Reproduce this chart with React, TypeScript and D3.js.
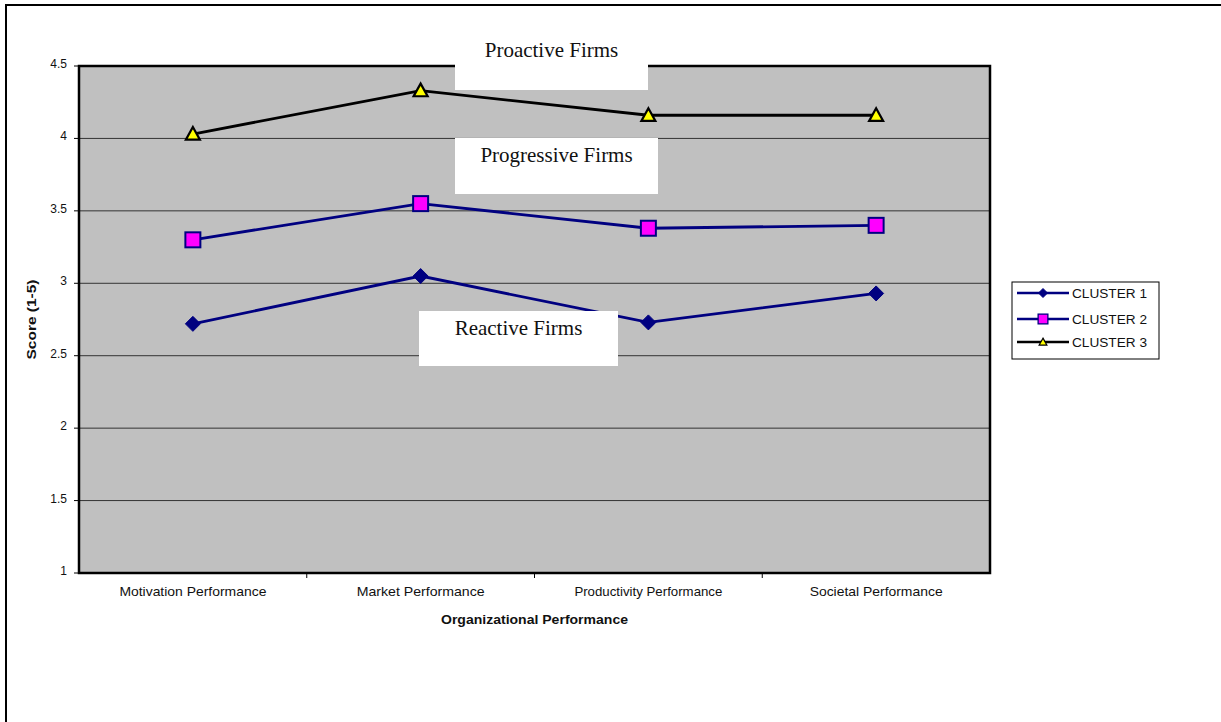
import React from "react";
import * as d3 from "d3";

const categories = ["Motivation Performance", "Market Performance", "Productivity Performance", "Societal Performance"];
const cluster1 = [2.72, 3.05, 2.73, 2.93];
const cluster2 = [3.30, 3.55, 3.38, 3.40];
const cluster3 = [4.03, 4.33, 4.16, 4.16];
const seriesNames = ["CLUSTER 1", "CLUSTER 2", "CLUSTER 3"];
const yTicks = [1, 1.5, 2, 2.5, 3, 3.5, 4, 4.5];
const annotations = ["Proactive Firms", "Progressive Firms", "Reactive Firms"];

const W = 1221, H = 722;
const plot = { left: 79, right: 990, top: 66, bottom: 573 };

function Marker({ kind, x, y, s = 1 }: { kind: string; x: number; y: number; s?: number }) {
  if (kind === "diamond") {
    const r = 7.5 * s;
    return <path d={`M${x},${y - r}L${x + r},${y}L${x},${y + r}L${x - r},${y}Z`} fill="#000080" stroke="#000080" strokeWidth={1} />;
  }
  if (kind === "square") {
    const r = 7.5 * s;
    return <rect x={x - r} y={y - r} width={2 * r} height={2 * r} fill="#FF00FF" stroke="#000080" strokeWidth={2 * s} />;
  }
  const r = 7 * s;
  return <path d={`M${x},${y - r}L${x + r},${y + r * 0.8}L${x - r},${y + r * 0.8}Z`} fill="#FFFF00" stroke="#000" strokeWidth={2.2 * s} strokeLinejoin="miter" />;
}

export default function App() {
  const x = d3.scaleBand<string>().domain(categories).range([plot.left, plot.right]);
  const y = d3.scaleLinear().domain([1, 4.5]).range([plot.bottom, plot.top]);
  const cx = (c: string) => (x(c) as number) + x.bandwidth() / 2;

  const series = [
    { name: seriesNames[0], values: cluster1, color: "#000080", kind: "diamond" },
    { name: seriesNames[1], values: cluster2, color: "#000080", kind: "square" },
    { name: seriesNames[2], values: cluster3, color: "#000000", kind: "triangle" },
  ];

  const line = d3.line<number>().x((_, i) => cx(categories[i])).y((v) => y(v));

  const boxes = [
    { text: annotations[0], x: 455, y: 33, w: 193, h: 57 },
    { text: annotations[1], x: 455, y: 138, w: 203, h: 56 },
    { text: annotations[2], x: 419, y: 311, w: 199, h: 55 },
  ];

  const catWidths = [147, 128, 148, 133];

  return (
    <svg width={W} height={H} style={{ position: "absolute", left: 0, top: 0, background: "#fff" }} fontFamily="Liberation Sans, Arial, sans-serif">
      <rect x={6} y={5} width={1300} height={800} fill="#fff" stroke="#000" strokeWidth={2} />
      <rect x={plot.left} y={plot.top} width={plot.right - plot.left} height={plot.bottom - plot.top} fill="#C0C0C0" />
      {yTicks.slice(1, -1).map((t) => (
        <line key={t} x1={plot.left} x2={plot.right} y1={y(t)} y2={y(t)} stroke="#333" strokeWidth={1} />
      ))}
      <rect x={plot.left} y={plot.top} width={plot.right - plot.left} height={plot.bottom - plot.top} fill="none" stroke="#000" strokeWidth={2.5} />
      {yTicks.map((t) => (
        <g key={t}>
          <line x1={plot.left - 5} x2={plot.left} y1={y(t)} y2={y(t)} stroke="#000" strokeWidth={1} />
          <text x={67} y={y(t) + 2} textAnchor="end" fontSize={12} fill="#111">{String(t)}</text>
        </g>
      ))}
      {categories.slice(1).map((c) => (
        <line key={c} x1={x(c)} x2={x(c)} y1={plot.bottom} y2={plot.bottom + 5} stroke="#000" strokeWidth={1} />
      ))}
      {categories.map((c, i) => (
        <text key={c} x={cx(c)} y={596} textAnchor="middle" fontSize={13} fill="#111" textLength={catWidths[i]} lengthAdjust="spacingAndGlyphs">{c}</text>
      ))}
      <text x={(plot.left + plot.right) / 2} y={624} textAnchor="middle" fontSize={13} fontWeight="bold" fill="#111" textLength={187} lengthAdjust="spacingAndGlyphs">Organizational Performance</text>
      <text transform={`translate(36,${(plot.top + plot.bottom) / 2}) rotate(-90)`} textAnchor="middle" fontSize={13} fontWeight="bold" fill="#111" textLength={80} lengthAdjust="spacingAndGlyphs">Score (1-5)</text>

      {series.map((s) => (
        <g key={s.name}>
          <path d={line(s.values) as string} fill="none" stroke={s.color} strokeWidth={2.8} />
          {s.values.map((v, i) => (
            <Marker key={i} kind={s.kind} x={cx(categories[i])} y={y(v)} />
          ))}
        </g>
      ))}

      {boxes.map((b) => (
        <g key={b.text}>
          <rect x={b.x} y={b.y} width={b.w} height={b.h} fill="#fff" />
          <text x={b.x + b.w / 2} y={b.y + 24} textAnchor="middle" fontSize={21} fontFamily="Liberation Serif, Times New Roman, serif" fill="#111">{b.text}</text>
        </g>
      ))}

      <rect x={1012} y={282} width={147} height={77} fill="#fff" stroke="#000" strokeWidth={1} />
      {series.map((s, i) => {
        const ly = [293, 319, 342][i];
        return (
          <g key={s.name}>
            <line x1={1017} x2={1069} y1={ly} y2={ly} stroke={s.color} strokeWidth={2.5} />
            <Marker kind={s.kind} x={1043} y={ly} s={s.kind === "triangle" ? 0.55 : s.kind === "diamond" ? 0.6 : 0.65} />
            <text x={1072} y={ly + 4.5} fontSize={12.5} fill="#111" textLength={75} lengthAdjust="spacingAndGlyphs">{s.name}</text>
          </g>
        );
      })}
    </svg>
  );
}
